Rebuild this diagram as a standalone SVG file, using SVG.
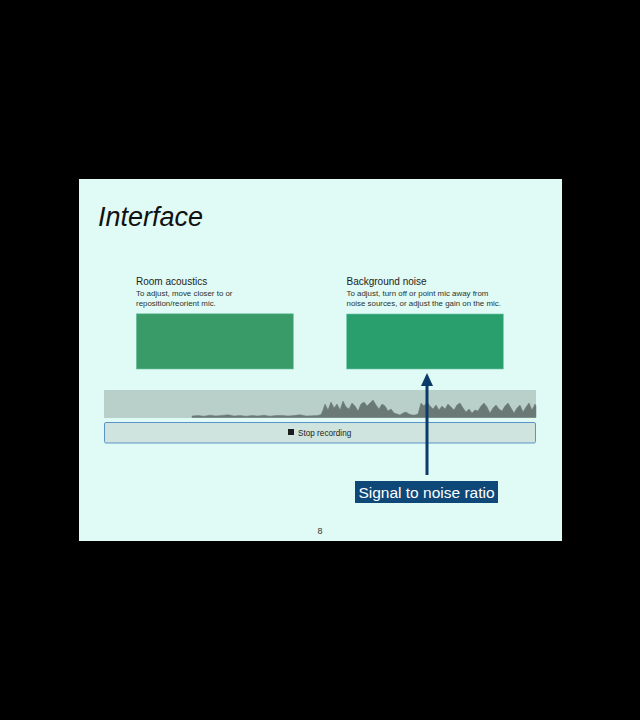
<svg xmlns="http://www.w3.org/2000/svg" width="640" height="720" viewBox="0 0 640 720">
  <defs>
    <style>
      .sans { font-family: "Liberation Sans", Arial, Helvetica, sans-serif; }
      .head { font-size: 10px; fill: #1c2422; }
      .sub { font-size: 7.9px; fill: #2a3330; }
      .panel { stroke: #6cc7a4; stroke-width: 0.6; }
    </style>
    <marker id="arrowHead" viewBox="0 0 13 12" refX="6" refY="6" markerWidth="13" markerHeight="12" markerUnits="userSpaceOnUse" orient="auto">
      <path d="M0 0 L13 6 L0 12 Z" fill="#0b3b69"/>
    </marker>
  </defs>

  <!-- page backdrop -->
  <rect x="0" y="0" width="640" height="720" fill="#000"/>

  <!-- slide -->
  <rect x="79" y="179" width="483" height="362" fill="#e0faf5"/>

  <text class="sans" x="98" y="226" font-size="27" font-style="italic" fill="#111" font-weight="300">Interface</text>

  <!-- room acoustics panel -->
  <g id="room-acoustics">
    <text class="sans head" x="136" y="284.5">Room acoustics</text>
    <text class="sans sub" x="136" y="296">To adjust, move closer to or</text>
    <text class="sans sub" x="136" y="306">reposition/reorient mic.</text>
    <rect class="panel" x="136.3" y="313.8" width="157" height="55.2" fill="#389b68"/>
  </g>

  <!-- background noise panel -->
  <g id="background-noise">
    <text class="sans head" x="346.5" y="284.5">Background noise</text>
    <text class="sans sub" x="346.5" y="295.5">To adjust, turn off or point mic away from</text>
    <text class="sans sub" x="346.5" y="305.5">noise sources, or adjust the gain on the mic.</text>
    <rect class="panel" x="346.7" y="314" width="156.6" height="55" fill="#2a9f6e"/>
  </g>

  <!-- level meter -->
  <g id="waveform">
    <rect x="104" y="390" width="432" height="28" fill="#b9cfca"/>
    <path fill="#6a7975" stroke="#6a7975" stroke-width="0.5" stroke-linejoin="round"
      d="M192 417.5 L192 416 L198 415.6 L204 416.2 L210 415.2 L216 416 L222 415.4 L228 414.8 L234 416 L240 415.5 L246 416.2 L252 415.6 L258 416 L264 415.2 L270 416.2 L276 415.6 L282 415.4 L288 416 L294 415.6 L300 414.8 L306 416 L312 415.8 L318 415.4 L321 414.5
         L323 410 L325 404 L328 410 L331 402 L334 408 L337 404 L340 410 L343 401 L346 407 L349 409 L352 403 L355 406 L358 411 L361 404 L364 402 L367 406 L370 403 L373 400 L376 405 L379 409 L382 404 L385 406 L388 411 L391 409 L394 413 L397 414 L400 415 L403 413 L406 412 L409 414 L412 415 L415 415 L418 414 L421 403 L424 406 L427 402 L430 406 L433 409 L436 405 L439 410 L442 406 L445 409 L448 404 L451 407 L454 410 L457 405 L460 403 L463 408 L466 412 L469 409 L472 413 L475 410 L478 411 L481 406 L484 403 L487 407 L490 413 L493 408 L496 405 L499 409 L502 411 L505 406 L508 403 L511 408 L514 413 L517 408 L520 405 L523 412 L526 407 L529 403 L532 410 L535 404 L536 406 L536 417.5 Z"/>
  </g>

  <!-- stop button -->
  <g id="stop-button">
    <rect x="104.5" y="422.5" width="431" height="20.5" rx="1.5" fill="#cfe4df" stroke="#5b93c6" stroke-width="1"/>
    <rect x="288" y="429" width="6" height="6" fill="#1a1f1e"/>
    <text class="sans" x="298" y="435.6" font-size="8.2" fill="#1c2422">Stop recording</text>
  </g>

  <!-- callout arrow -->
  <g id="connectors">
    <line x1="427" y1="475" x2="427" y2="380" stroke="#0b3b69" stroke-width="3" marker-end="url(#arrowHead)"/>
  </g>

  <g id="snr-label">
    <rect x="355" y="481" width="143" height="22" fill="#0d4878"/>
    <text class="sans" x="426.5" y="498" font-size="15.5" fill="#ffffff" text-anchor="middle">Signal to noise ratio</text>
  </g>

  <text class="sans" x="320" y="534" font-size="9" fill="#333" text-anchor="middle">8</text>
</svg>
